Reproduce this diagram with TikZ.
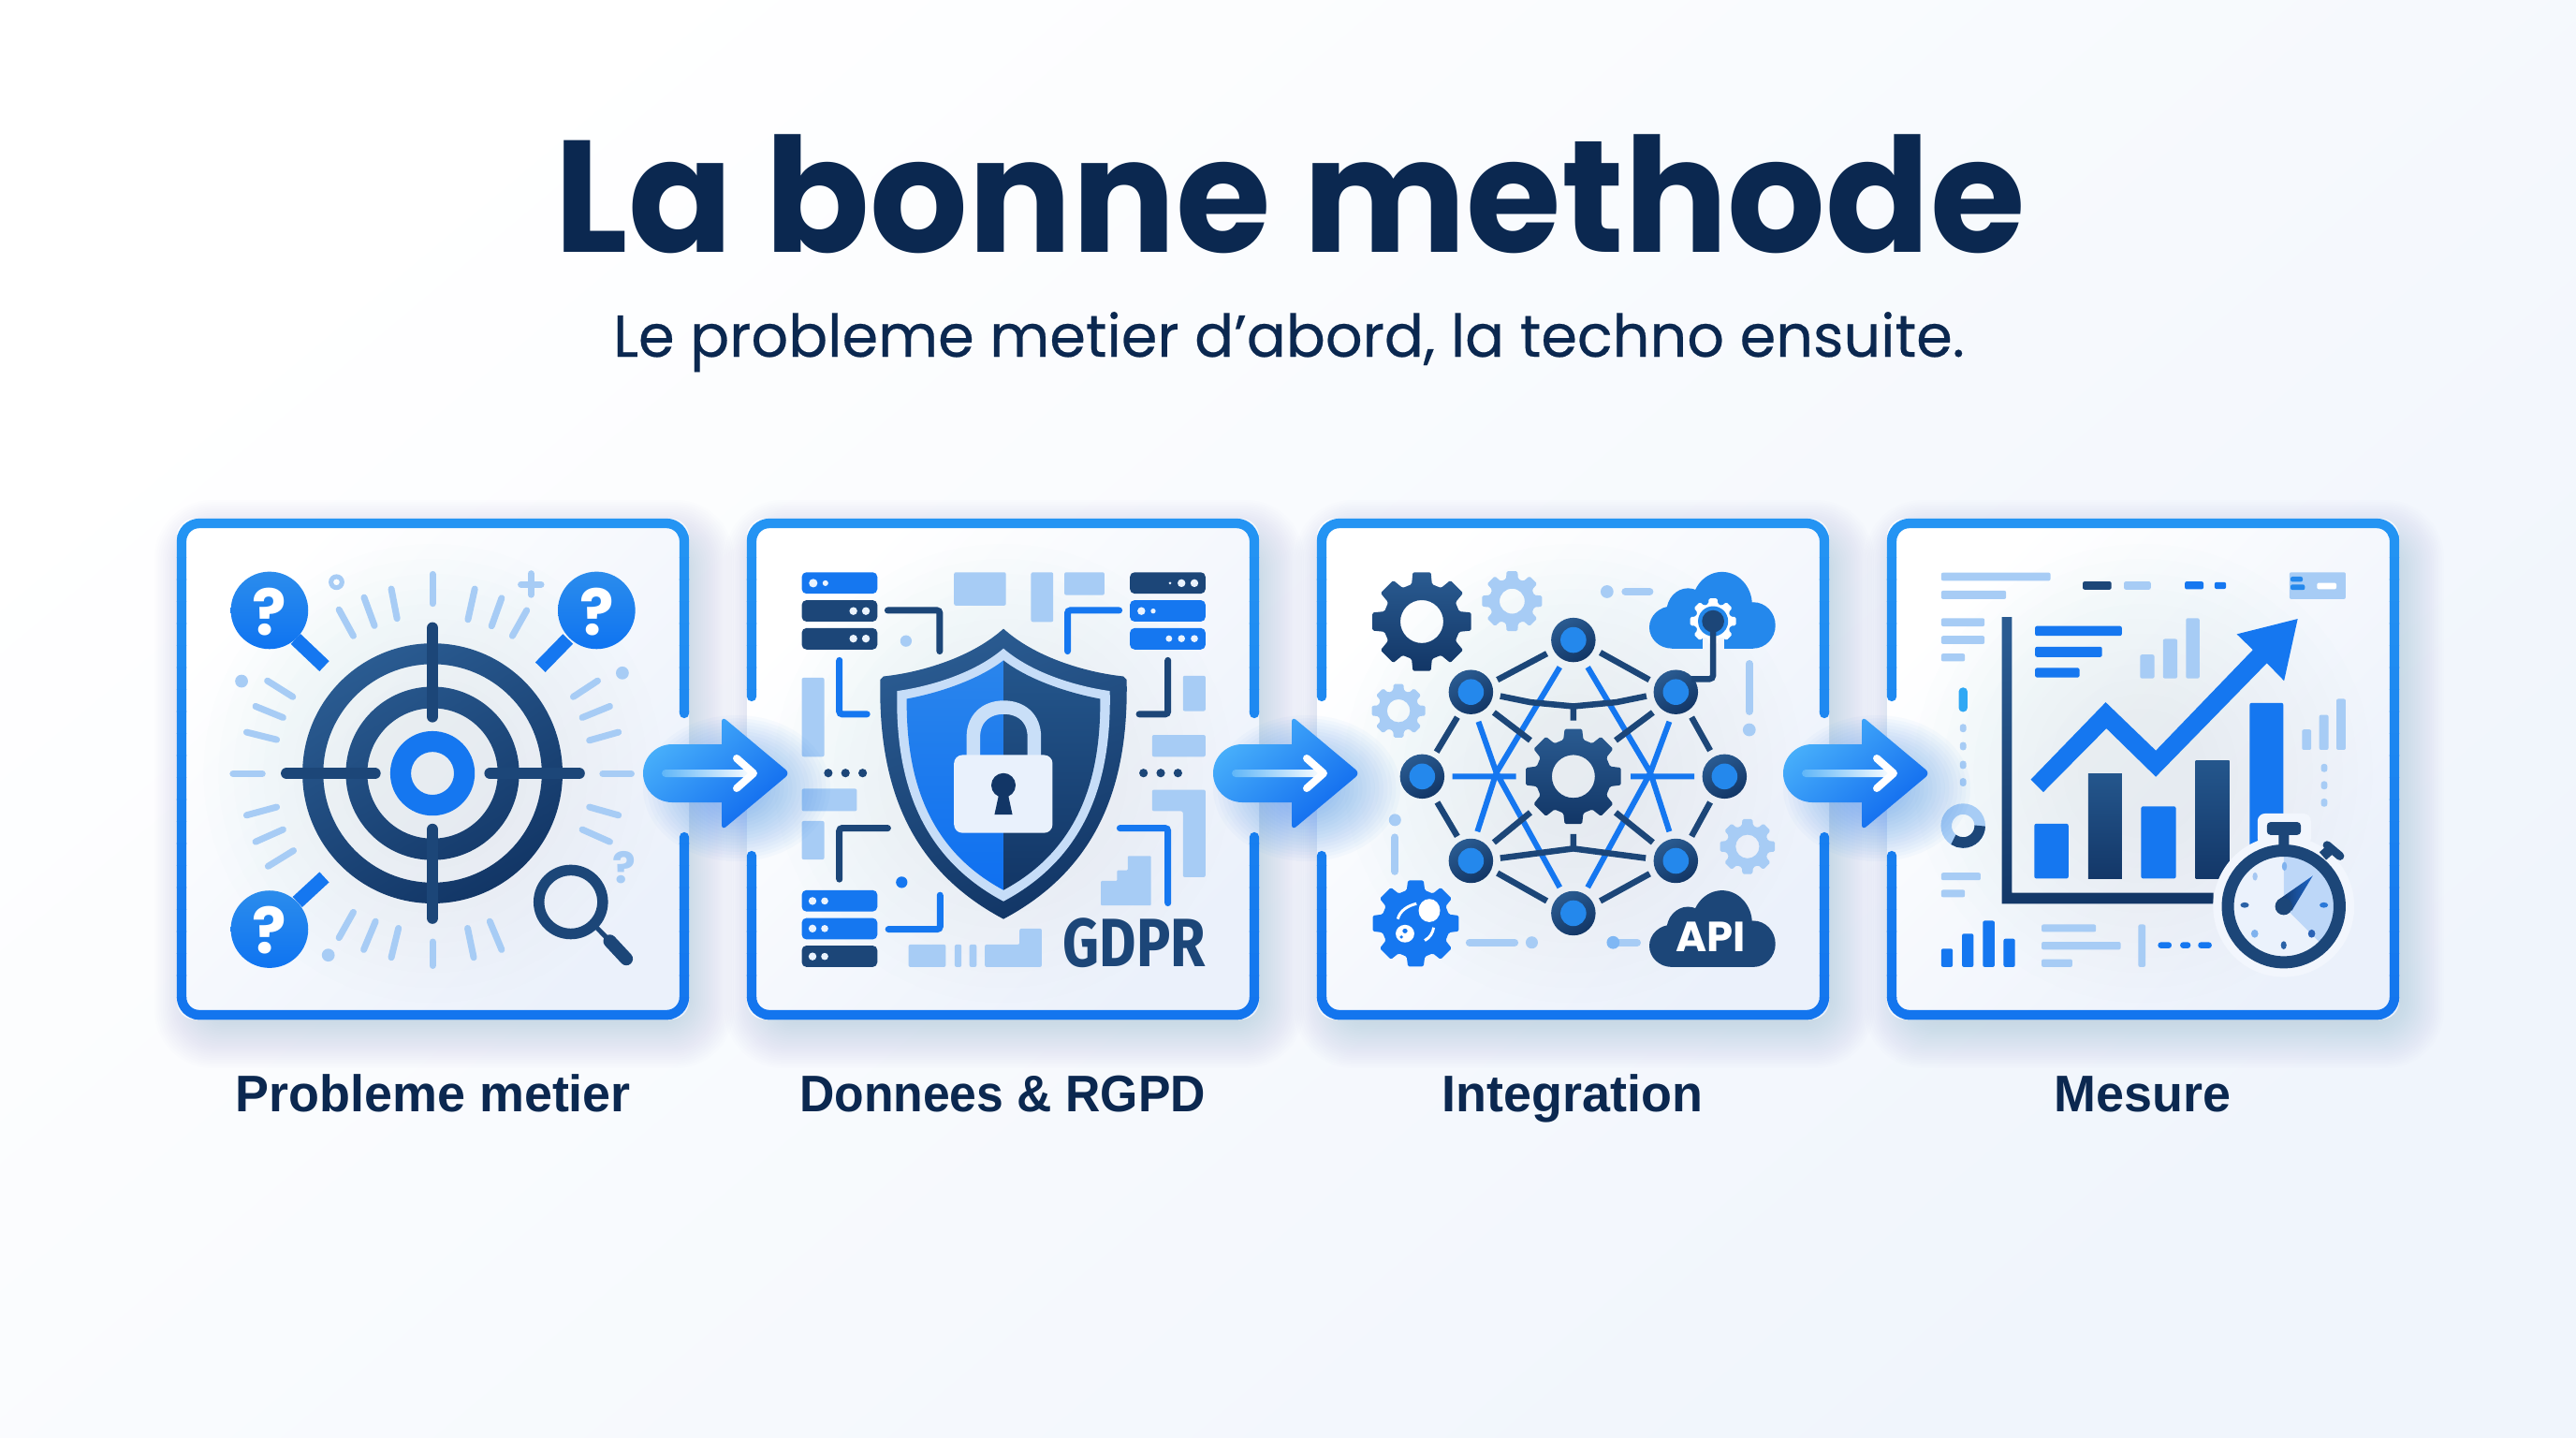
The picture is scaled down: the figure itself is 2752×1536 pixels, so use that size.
\documentclass[tikz,border=0pt]{standalone}
\usepackage{fontspec}
\setmainfont{Poppins}
\newfontfamily\titlefont{Poppins}[FakeStretch=.968]
\newfontfamily\subfont{Poppins}[FakeStretch=.987,FakeBold=.35]
\newfontfamily\lblfont{Liberation Sans}[FakeStretch=.98]
\newfontfamily\lblnarrow{Liberation Sans}[FakeStretch=.94]
\newfontfamily\gdprfont{Fira Sans}[FakeStretch=0.83]
\usetikzlibrary{calc}
\definecolor{dk}{HTML}{1C4678}
\definecolor{dka}{HTML}{2A5B91}
\definecolor{dkb}{HTML}{123666}
\definecolor{bl}{HTML}{1577F0}
\definecolor{bla}{HTML}{2488EC}
\definecolor{lt}{HTML}{A7CCF5}
\definecolor{ink}{HTML}{0B2850}
\definecolor{fra}{HTML}{2494F3}
\definecolor{frb}{HTML}{1274EE}
\definecolor{pan}{HTML}{F2F6FD}
\definecolor{shc}{HTML}{7894C6}
\newcommand\hc[1]{\definecolor{#1}{HTML}{#1}}
\hc{F0F5FC}\hc{EBF1FB}\hc{4AB2FB}\hc{0E68EE}\hc{5FB6F8}\hc{C6DDF8}\hc{2A85EC}\hc{0F70F0}\hc{24568C}\hc{123666}\hc{C9DFF8}\hc{E9F1FC}\hc{EAF3FE}\hc{2B8CEC}\hc{0F74F1}\hc{7FB7F4}\hc{2FA8F4}\hc{133768}\hc{EBF2FC}\hc{BDD7F8}\hc{7FB2EE}\hc{A5C7F2}\hc{2A62A6}\hc{2A78D8}\hc{2A62B6}\hc{1F66C8}\hc{9CC2F0}
\tikzset{
 pnl/.style={shift={(#1,540)},x=.3827pt,y=-.3635pt},
 dkg/.style={top color=dka,bottom color=dkb,shading angle=30},
 blg/.style={top color=bla,bottom color=bl},
 ray/.style={draw=lt,line width=7pt,line cap=round},
 thin lt/.style={draw=lt,line width=8pt,line cap=round},
 wire/.style={line width=7pt,line cap=round,rounded corners=3pt},
 edge/.style={draw=dk,line width=6.5pt},
 bedge/.style={draw=bl,line width=6pt},
 panelbox/.style={minimum width=547pt,minimum height=535pt,inner sep=0pt,draw=none},
 lbl/.style={anchor=base,text=ink,font=\lblfont\bfseries\fontsize{55pt}{55pt}\selectfont},
 qm/.style={text=white,inner sep=0pt,font=\bfseries\fontsize{68pt}{68pt}\selectfont},
 frm/.style={line width=10.3pt,line cap=round,rounded corners=19pt}
}
\newcommand\cir[3]{(#1,#2) ellipse ({#3} and {#3*1.0526})}
\newcommand\dotc[4]{\fill[#1] \cir{#2}{#3}{#4};}
\newcommand\bx[5]{\fill[#1,rounded corners=2pt] (#2,#3) rectangle (#4,#5);}
\newcommand\gearsh[7]{%
 \begin{scope}[shift={(#1,#2)},x=.3827pt,y=.3827pt]
 \pgfmathsetmacro\wt{82.8/#6}\pgfmathsetmacro\wr{122/#6}
 \pgfmathtruncatemacro\glast{#6-1}
 \path[#7,even odd rule,rounded corners=1.5pt] ({-\wr}:#4) -- ({-\wt}:#3) -- ({\wt}:#3) -- ({\wr}:#4)
  \foreach \i in {1,...,\glast}{ -- ({\i*360/#6-\wr}:#4) -- ({\i*360/#6-\wt}:#3) -- ({\i*360/#6+\wt}:#3) -- ({\i*360/#6+\wr}:#4)} -- cycle
  (0,0) circle (#5);
 \end{scope}}
\newcommand\panelshadow[1]{%
 \pgfmathsetmacro\xa{189+609*#1}\pgfmathsetmacro\xb{736+609*#1}
 \foreach \s in {0,...,27}{
  \pgfmathsetmacro\rr{62-\s*1.5}
  \fill[shc,opacity=.0125,rounded corners=\rr pt]
   ({\xa-36+\s*2.2+12},{554-36+\s*2.2+16}) rectangle ({\xb+36-\s*2.2+12},{1089+36-\s*2.2+16});}}
\newcommand\panelbg[1]{%
 \pgfmathsetmacro\xa{189+609*#1}\pgfmathsetmacro\xb{736+609*#1}
 \shade[top color=white,bottom color=EBF1FB,shading angle=45,rounded corners=19pt] (\xa,554) rectangle (\xb,1089);
 \foreach \s in {0,...,11}{
  \fill[9CC2F0,opacity=.012] ({(\xa+\xb)/2},826) ellipse ({245-\s*16} and {245-\s*16});}}
\newcommand\framedraw[1]{%
 \foreach \s in {0,...,23}{
  \pgfmathsetmacro\pc{100-\s*100/23}
  \begin{scope}
  \clip (0,{548+\s*23.5}) rectangle (2752,{548+(\s+1)*23.5+.6});
  \draw[frm,draw={fra!\pc!frb}] #1;
  \end{scope}}}
\newcommand\cloudsh[2]{%
 \begin{scope}[shift={(0,#1)}]
 \fill[#2] (1175,292) ellipse (84 and 97) (1080,312) ellipse (60 and 69) (1035,358) ellipse (63 and 62) (1262,352) ellipse (62 and 68);
 \fill[#2] (1035,335) rectangle (1262,420);
 \end{scope}}
\newcommand\blockarrow[3]{%
 \begin{scope}[shift={($(#1.east)!.5!(#2.west)+(0,4.5)$)}]
 \foreach \k in {0,...,15}{
  \fill[bl,opacity=.026] (20,16) ellipse ({100-\k*4.5} and {78-\k*3.4});}
 \shade[top color=4AB2FB,bottom color=0E68EE,shading angle=40]
  [rounded corners=31pt] (4,-31) -- (-80,-31) -- (-80,31) [rounded corners=0pt] -- (4,31)
  [rounded corners=6pt] -- (4,61) -- (77,0) -- (4,-61) [rounded corners=0pt] -- cycle;
 \shade[left color=5FB6F8,right color=white,rounded corners=4pt] (-60,-4) rectangle (38,4);
 \draw[white,line width=8pt,line cap=round,line join=round] (20,-16) -- (38,0) -- (20,16);
 \end{scope}}
\begin{document}
\begin{tikzpicture}[x=1pt,y=-1pt]
\useasboundingbox (0,0) rectangle (2752,1536);
\shade[top color=white,bottom color=F0F5FC,shading angle=40] (0,0) rectangle (2752,1536);

\panelshadow{0}\panelshadow{1}\panelshadow{2}\panelshadow{3}
\panelbg{0}\panelbg{1}\panelbg{2}\panelbg{3}
\node[panelbox] (p1) at (462.5,821.5) {};
\node[panelbox] (p2) at (1071.5,821.5) {};
\node[panelbox] (p3) at (1680.5,821.5) {};
\node[panelbox] (p4) at (2289.5,821.5) {};

% frames
\framedraw{(731,762) -- (731,559) -- (194,559) -- (194,1084) -- (731,1084) -- (731,894)}
\framedraw{(803,744) -- (803,559) -- (1340,559) -- (1340,762) (803,914) -- (803,1084) -- (1340,1084) -- (1340,894)}
\framedraw{(1412,744) -- (1412,559) -- (1949,559) -- (1949,762) (1412,914) -- (1412,1084) -- (1949,1084) -- (1949,894)}
\framedraw{(2021,744) -- (2021,559) -- (2558,559) -- (2558,1084) -- (2021,1084) -- (2021,914)}

% title
\node[anchor=base,text=ink,inner sep=0pt,font=\titlefont\bfseries\fontsize{170pt}{170pt}\selectfont] (title) at (1378.5,269) {La bonne methode};
\node[anchor=base,text=ink,inner sep=0pt,font=\subfont\fontsize{63pt}{63pt}\selectfont] (sub) at (1377,381) {Le probleme metier d’abord, la techno ensuite.};
\node[lbl] (l1) at (462.8,1187) {Probleme metier};
\node[lbl,font=\lblnarrow\bfseries\fontsize{55pt}{55pt}\selectfont] (l2) at (1071,1187) {Donnees \& RGPD};
\node[lbl] (l3) at (1680,1187) {Integration};
\node[lbl] (l4) at (2289,1187) {Mesure};

%%%%%%%% PANEL 1
\begin{scope}[pnl=180]
\foreach \a/\b/\c/\d in {737/202/737/288,622/245/638/332,546/270/575/353,476/306/516/383,855/245/836/335,930/272/902/354,1000/308/960/383,
 276/515/347/562,243/590/320/623,218/666/302/688,180/788/262/788,218/910/302/886,243/988/320/952,278/1060/349/1014,
 1198/515/1130/562,1232/590/1155/623,1256/666/1175/690,1212/788/1292/788,1175/886/1256/910,1155/952/1232/988,
 516/1195/476/1270,578/1222/545/1305,642/1242/622/1328,737/1282/737/1352,835/1242/852/1328,897/1222/930/1305}
 {\draw[ray] (\a,\b) -- (\c,\d);}
\fill[lt,even odd rule] \cir{469}{225}{22} \cir{469}{225}{9};
\draw[ray] (984,232) -- (1040,232) (1012,200) -- (1012,262);
\dotc{lt}{204}{516}{18}\dotc{lt}{1267}{492}{18}\dotc{lt}{446}{1321}{18}
\node[text=lt,inner sep=0pt,font=\bfseries\fontsize{46pt}{46pt}\selectfont] (qs) at (1272,1065) {?};
% target
\shade[dkg,even odd rule] \cir{737}{787}{363} \cir{737}{787}{305} \cir{737}{787}{242} \cir{737}{787}{182};
\fill[bl,even odd rule] \cir{737}{787}{118} \cir{737}{787}{60};
\draw[dk,line width=12.5pt,line cap=round] (737,360) -- (737,620) (737,952) -- (737,1212) (330,787) -- (576,787) (898,787) -- (1146,787);
% question pins
\foreach \cx/\cy/\hx/\hy/\tx/\ty in {282/308/355/392/435/472,1195/308/1115/392/1038/475,282/1245/360/1165/435/1092}
 {\draw[bl,line width=15pt] (\hx,\hy) -- (\tx,\ty);
  \shade[top color=2B8CEC,bottom color=0F74F1] \cir{\cx}{\cy}{108};}
\node[qm] (q1) at (282,312) {?};
\node[qm] (q2) at (1195,312) {?};
\node[qm] (q3) at (282,1249) {?};
% magnifier
\draw[dk,line width=11.5pt] \cir{1123}{1165}{89};
\draw[dk,line width=5pt] (1195,1240) -- (1225,1272);
\draw[dk,line width=14pt,line cap=round] (1232,1280) -- (1278,1332);
\end{scope}

%%%%%%%% PANEL 2
\begin{scope}[pnl=780]
% light blocks
\bx{lt}{625}{196}{770}{294}\bx{lt}{840}{196}{902}{342}\bx{lt}{933}{196}{1045}{263}
\bx{lt}{1264}{500}{1327}{604}\bx{lt}{1178}{674}{1327}{738}
\bx{lt}{200}{506}{263}{738}\bx{lt}{200}{832}{354}{898}\bx{lt}{200}{927}{263}{1040}
\bx{lt}{498}{1290}{602}{1356}\bx{lt}{627}{1290}{646}{1356}\bx{lt}{668}{1290}{688}{1356}
\fill[lt,rounded corners=2pt] (1178,835) -- (1327,835) -- (1327,1092) -- (1264,1092) -- (1264,898) -- (1178,898) -- cycle;
\fill[lt,rounded corners=2pt] (711,1290) -- (808,1290) -- (808,1243) -- (870,1243) -- (870,1356) -- (711,1356) -- cycle;
\fill[lt,rounded corners=1pt] (1035,1175) -- (1035,1103) -- (1080,1103) -- (1080,1072) -- (1110,1072) -- (1110,1030) -- (1175,1030) -- (1175,1175) -- cycle;
% servers
\foreach \x/\y/\c in {200/196/bl,200/278/dk,200/360/dk,1116/196/dk,1116/278/bl,1116/360/bl,200/1130/bl,200/1212/bl,200/1293/dk}
 {\fill[\c,rounded corners=5pt] (\x,\y) rectangle ({\x+211},{\y+63});}
\foreach \x/\y/\r in {232/228/12,266/228/8,344/310/11,379/310/11,344/391/11,379/391/11,
 1228/228/4,1260/228/11,1296/228/11,1148/310/11,1181/310/7,1225/391/9,1260/391/10,1296/391/10,
 230/1162/11,264/1162/10,230/1243/11,264/1243/10,230/1325/11,264/1325/10}
 {\dotc{EAF3FE}{\x}{\y}{\r}}
% wires
\draw[wire,draw=dk] (440,308) -- (585,308) -- (585,428);
\draw[wire,draw=bl] (1086,308) -- (942,308) -- (942,428);
\draw[wire,draw=bl] (305,455) -- (305,613) -- (382,613);
\draw[wire,draw=dk] (1222,455) -- (1222,613) -- (1142,613);
\draw[wire,draw=dk] (440,948) -- (305,948) -- (305,1098);
\draw[wire,draw=bl] (1088,948) -- (1222,948) -- (1222,1168);
\draw[wire,draw=bl] (586,1145) -- (586,1245) -- (442,1245);
\dotc{lt}{491}{398}{16}\dotc{bl}{479}{1107}{16}
\foreach \x in {274,322,370,1154,1202,1250}{\dotc{dk}{\x}{786}{12}}
% shield
\shade[dkg,shading angle=20] (763,362) .. controls (850,445) and (990,490) .. (1098,502) -- (1107,512) .. controls (1112,800) and (1040,1060) .. (763,1215)
 .. controls (486,1060) and (414,800) .. (419,512) -- (428,502) .. controls (536,490) and (676,445) .. (763,362) -- cycle;
\fill[C6DDF8] (763,420) .. controls (840,490) and (960,530) .. (1060,545) .. controls (1065,800) and (1000,1030) .. (763,1163)
 .. controls (526,1030) and (461,800) .. (466,545) .. controls (566,530) and (686,490) .. (763,420) -- cycle;
\shade[top color=2A85EC,bottom color=0F70F0] (763,455) -- (763,1130) .. controls (551,1010) and (491,800) .. (493,568) .. controls (586,550) and (696,510) .. (763,455) -- cycle;
\shade[top color=24568C,bottom color=123666] (763,455) -- (763,1130) .. controls (975,1010) and (1035,800) .. (1033,568) .. controls (940,550) and (830,510) .. (763,455) -- cycle;
% lock
\draw[C9DFF8,line width=14.5pt] (679,745) -- (679,680) .. controls (679,625) and (715,593) .. (764,593) .. controls (813,593) and (849,625) .. (849,680) -- (849,745);
\fill[E9F1FC,rounded corners=9pt] (625,733) rectangle (900,962);
\fill[dkb] \cir{763}{822}{34};
\fill[dkb] (752,840) -- (774,840) -- (788,908) -- (738,908) -- cycle;
\node[text=dk,inner sep=0pt,anchor=base,font=\gdprfont\bfseries\fontsize{73pt}{73pt}\selectfont] (gdpr) at (1128,1356) {GDPR};
\end{scope}

%%%%%%%% PANEL 3
\begin{scope}[pnl=1390]
\gearsh{337}{341}{140}{108}{60}{8}{top color=dka,bottom color=dkb}
\gearsh{589}{281}{85}{64}{35}{8}{fill=lt}
\gearsh{272}{603}{76}{58}{32}{8}{fill=lt}
\gearsh{1246}{1002}{78}{60}{33}{8}{fill=lt}
\gearsh{320}{1228}{122}{96}{0}{8}{fill=bl}
\fill[white] (358,1190) ellipse (30 and 34) (290,1258) ellipse (26 and 26);
\draw[white,line width=3pt] (270,1215) .. controls (275,1190) and (300,1175) .. (322,1170) (345,1278) .. controls (360,1270) and (368,1255) .. (370,1240);
\fill[bl] (290,1250) ellipse (7 and 7) (280,1268) ellipse (5 and 5);
% edges
\draw[bedge] (722,475) -- (545,785) -- (492,958) (495,635) -- (545,785) -- (722,1122)
 (800,475) -- (975,785) -- (1028,958) (1028,635) -- (975,785) -- (800,1122)
 (422,796) -- (600,796) (920,796) -- (1098,796);
\draw[edge] (548,512) -- (686,435) (835,432) -- (972,512) (548,1080) -- (686,1162) (835,1162) -- (973,1082)
 (436,622) -- (378,724) (1090,622) -- (1142,720) (380,872) -- (436,972) (1142,872) -- (1090,972)
 (538,608) -- (640,690) (982,608) -- (878,690) (538,990) -- (640,902) (982,990) -- (878,902);
\draw[edge] (556,560) -- (640,578) -- (760,590) -- (880,578) -- (964,560) (760,590) -- (760,632);
\draw[edge] (556,1036) -- (760,1008) -- (962,1036) (760,965) -- (760,1008);
\foreach \x/\y in {760/395,474/548,1046/548,338/796,1182/796,474/1044,1046/1044,760/1198}
 {\shade[dkg] \cir{\x}{\y}{62};\dotc{bla}{\x}{\y}{36}}
\gearsh{760}{796}{135}{106}{60}{8}{top color=dka,bottom color=dkb}
% light bits
\dotc{lt}{854}{253}{18}\draw[thin lt] (905,253) -- (973,253);
\draw[thin lt] (1251,465) -- (1251,605);\dotc{lt}{1251}{659}{18}
\dotc{lt}{262}{924}{17}\draw[thin lt] (262,975) -- (262,1075);
\draw[thin lt] (470,1284) -- (596,1284);\dotc{lt}{644}{1284}{17}
\draw[thin lt] (885,1284) -- (938,1284);\dotc{7FB7F4}{871}{1284}{18}
% clouds
\cloudsh{0}{bla}
\fill[pan] (1120,385) rectangle (1182,425);
\gearsh{1150}{340}{65}{50}{0}{8}{fill=white}
\dotc{bla}{1150}{340}{42}
\draw[dk,line width=6.5pt,rounded corners=4pt] (1150,340) -- (1150,510) -- (1090,510);
\dotc{dk}{1150}{340}{31}
\cloudsh{936}{dk}
\node[text=white,inner sep=0pt,font=\bfseries\fontsize{45pt}{45pt}\selectfont] (api) at (1143,1268) {API};
\end{scope}

%%%%%%%% PANEL 4
\begin{scope}[pnl=2000]
\bx{lt}{193}{197}{498}{221}\bx{lt}{193}{250}{374}{275}\bx{lt}{193}{331}{314}{355}\bx{lt}{193}{383}{314}{407}\bx{lt}{193}{435}{259}{458}
\bx{dk}{588}{223}{668}{247}\bx{lt}{703}{223}{778}{247}\bx{bl}{873}{223}{925}{246}\bx{bl}{956}{225}{988}{245}
\bx{lt}{1165}{196}{1322}{275}
\bx{bla}{1168}{209}{1202}{224}\bx{bla}{1168}{232}{1208}{248}\bx{white}{1242}{227}{1296}{246}
\bx{lt}{748}{438}{788}{508}\bx{lt}{812}{392}{852}{508}\bx{lt}{876}{331}{914}{508}
\bx{lt}{1200}{658}{1226}{718}\bx{lt}{1248}{615}{1274}{718}\bx{lt}{1296}{568}{1322}{718}
\bx{bl}{455}{354}{697}{383}\bx{bl}{455}{415}{642}{445}\bx{bl}{455}{477}{579}{505}
% axis
\shade[dkg,shading angle=10] (362,328) -- (390,328) -- (390,1138) -- (953,1138) -- (953,1170) -- (362,1170) -- cycle;
% bars
\bx{bl}{453}{935}{548}{1096}
\shade[top color=24568C,bottom color=133768] (603,789) rectangle (697,1096);
\bx{bl}{751}{884}{848}{1096}
\shade[top color=24568C,bottom color=133768] (903,751) rectangle (997,1096);
\bx{bl}{1054}{580}{1148}{1000}
% trend arrow
\fill[bl] (443,805) -- (652,578) -- (792,720) -- (1063,424) -- (1018,378) -- (1188,333) -- (1150,515) -- (1102,463) -- (792,797) -- (654,655) -- (478,842) -- cycle;
% side bits
\fill[2FA8F4,rounded corners=4pt] (242,535) rectangle (266,606);
\foreach \y in {654,707,762,813}{\fill[lt,rounded corners=3pt] (245,{\y-12}) rectangle (263,{\y+12});}
\foreach \y in {771,822,873}{\fill[lt,rounded corners=3pt] (1253,{\y-12}) rectangle (1271,{\y+12});}
\begin{scope}[shift={(254,941)},x=.3827pt,y=.3827pt]
\draw[lt,line width=11.5pt] (0,0) circle (47);
\draw[dk,line width=11.5pt] (0:47) arc (0:-125:47);
\end{scope}
\bx{lt}{193}{1079}{303}{1101}\bx{lt}{193}{1129}{259}{1151}
\bx{bl}{193}{1302}{225}{1356}\bx{bl}{251}{1258}{283}{1356}\bx{bl}{309}{1220}{342}{1356}\bx{bl}{367}{1273}{399}{1356}
\bx{lt}{473}{1231}{625}{1253}\bx{lt}{473}{1282}{694}{1305}\bx{lt}{473}{1333}{559}{1356}\bx{lt}{743}{1231}{763}{1356}
\fill[bl,rounded corners=3pt] (798,1283) rectangle (836,1301) (860,1283) rectangle (889,1301) (910,1283) rectangle (948,1301);
% stopwatch
\fill[pan] \cir{1149}{1178}{197};
\fill[pan,rounded corners=8pt] (1076,905) rectangle (1225,1000);
\draw[dk,line width=11pt] (1149,965) -- (1149,1005) (1258,1030) -- (1285,1005);
\fill[dk,rounded corners=4pt] (1102,930) rectangle (1197,968);
\draw[dk,line width=9pt,line cap=round] (1270,998) -- (1306,1030);
\fill[EBF2FC] \cir{1149}{1178}{150};
\begin{scope}[shift={(1149,1178)},x=.3827pt,y=.3827pt]
\fill[BDD7F8] (0,0) -- (90:140) arc (90:-45:140) -- cycle;
\end{scope}
\draw[dk,line width=13pt] \cir{1149}{1178}{156};
\foreach \x/\y/\c/\rx/\ry in {1151/1060/7FB2EE/7/13,1069/1090/A5C7F2/7/12,1040/1174/2A62A6/12/8,1261/1174/2A78D8/12/8,1068/1258/7FB2EE/10/12,1227/1258/2A62B6/10/12,1149/1292/2A62A6/8/12}
 {\fill[\c] (\x,\y) ellipse ({\rx} and {\ry});}
\shade[left color=dkb,right color=1F66C8] (1132,1160) -- (1230,1088) -- (1172,1190) -- cycle;
\dotc{dk}{1149}{1178}{24}
\end{scope}

% arrows between panels
\blockarrow{p1}{p2}{a}
\blockarrow{p2}{p3}{b}
\blockarrow{p3}{p4}{c}
\end{tikzpicture}
\end{document}
